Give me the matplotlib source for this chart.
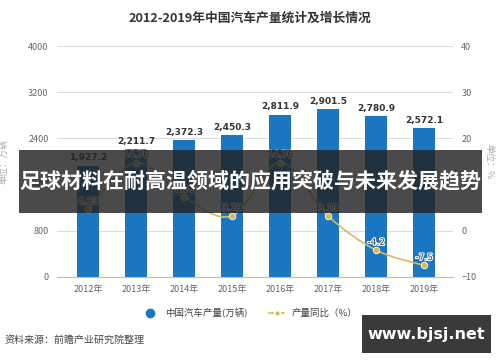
import matplotlib.pyplot as plt
from matplotlib.path import Path
from matplotlib.patches import PathPatch, Rectangle
from matplotlib.lines import Line2D
import matplotlib.patheffects as pe

plt.rcParams['font.family'] = ['Noto Sans CJK SC', 'DejaVu Sans']

years = ["2012年", "2013年", "2014年", "2015年", "2016年", "2017年", "2018年", "2019年"]
output = [1927.2, 2211.7, 2372.3, 2450.3, 2811.9, 2901.5, 2780.9, 2572.1]
growth = [4.63, 14.76, 7.26, 3.25, 14.76, 3.19, -4.2, -7.5]
growth_labels = ["4.63", "14.76", "7.26", "3.29", "14.76", "3.19", "-4.2", "-7.5"]

bar_color = "#1b76c2"
line_color = "#d9b85a"
grey = "#666666"

W, H = 500, 362
fig = plt.figure(figsize=(5, 3.62), dpi=100)
ax = fig.add_axes([57/W, 1-277/H, 396/W, 231/H])
x = list(range(len(years)))

ax.bar(x, output, width=0.46, color=bar_color, zorder=2)
for xi, v in zip(x, output):
    ax.text(xi, v + 60, f"{v:,.1f}", ha="center", va="bottom", fontsize=6.5,
            fontweight="bold", color="#333333", family=['DejaVu Sans'])

ax.set_ylim(0, 4000)
ax.set_yticks(range(0, 4001, 800))
ax.set_xlim(-0.646, 7.6)
ax.set_xticks(x)
ax.set_xticklabels(years)
ax.grid(axis="y", color="#dddddd", lw=0.8, zorder=0)
for s in ["top", "left", "right"]:
    ax.spines[s].set_visible(False)
ax.spines["bottom"].set_color("#bbbbbb")
ax.tick_params(axis="both", length=0, labelsize=6.5, labelcolor=grey, pad=6)
ax.set_ylabel("单位：万辆", fontsize=6.5, color="#aaaaaa", labelpad=14)

ax2 = ax.twinx()
ax2.set_ylim(-10, 40)
ax2.set_yticks(range(-10, 41, 10))
for s in ax2.spines.values():
    s.set_visible(False)
ax2.tick_params(axis="y", length=0, labelsize=6.5, labelcolor=grey, pad=6)
ax2.set_ylabel("单位：%", fontsize=6.5, color="#aaaaaa", rotation=270, labelpad=12)

# smooth curve through the growth points (Catmull-Rom as cubic Bezier)
pts = list(zip(x, growth))
verts = [pts[0]]
codes = [Path.MOVETO]
for i in range(len(pts) - 1):
    p0 = pts[i - 1] if i > 0 else pts[i]
    p1 = pts[i]
    p2 = pts[i + 1]
    p3 = pts[i + 2] if i + 2 < len(pts) else pts[i + 1]
    c1 = (p1[0] + (p2[0] - p0[0]) / 6, p1[1] + (p2[1] - p0[1]) / 6)
    c2 = (p2[0] - (p3[0] - p1[0]) / 6, p2[1] - (p3[1] - p1[1]) / 6)
    verts += [c1, c2, p2]
    codes += [Path.CURVE4] * 3
ax2.add_patch(PathPatch(Path(verts, codes), fill=False, edgecolor=line_color, lw=1.2, zorder=3))
ax2.scatter(x, growth, s=22, color=line_color, edgecolor="white", linewidth=0.6, zorder=4)
for xi, v, lab in zip(x, growth, growth_labels):
    ax2.text(xi, v + 1.7, lab, ha="center", va="center", fontsize=6.5, color="#444444",
             family=['DejaVu Sans'], zorder=5,
             path_effects=[pe.withStroke(linewidth=1.5, foreground="white")])

fig.text(0.5, 1-18/H, "2012-2019年中国汽车产量统计及增长情况", ha="center", va="center",
         fontsize=9.2, fontweight="bold", color="#333333")

handles = [
    Line2D([], [], marker="o", color=bar_color, lw=0, markersize=6),
    Line2D([], [], marker="o", color=line_color, lw=1.2, markersize=4, markeredgecolor="white"),
]
fig.legend(handles, ["中国汽车产量(万辆)", "产量同比（%）"], loc="center",
           bbox_to_anchor=(0.5, 1-313/H), ncol=2, frameon=False, fontsize=6.8,
           labelcolor="#444444", handlelength=1.6, columnspacing=2.3)

fig.text(5/W, 1-340/H, "资料来源：前瞻产业研究院整理", ha="left", va="center",
         fontsize=7.2, color="#444444")

# overlay banner
fig.patches.append(Rectangle((19/W, 1-213/H), 463/W, 63/H, transform=fig.transFigure,
                             facecolor="#222222", alpha=0.82, edgecolor="none", zorder=10))
fig.text(250/W, 1-181/H, "足球材料在耐高温领域的应用突破与未来发展趋势", ha="center", va="center",
         fontsize=15.1, fontweight="bold", color="white", zorder=11)

fig.patches.append(Rectangle((362/W, 1-353/H), 129/W, 38/H, transform=fig.transFigure,
                             facecolor="#3a3a3a", edgecolor="none", zorder=10))
fig.text(426/W, 1-334/H, "www.bjsj.net", ha="center", va="center",
         fontsize=11.5, fontweight="bold", color="white", family=['DejaVu Sans'], zorder=11)

fig.savefig("out.png", dpi=100)
